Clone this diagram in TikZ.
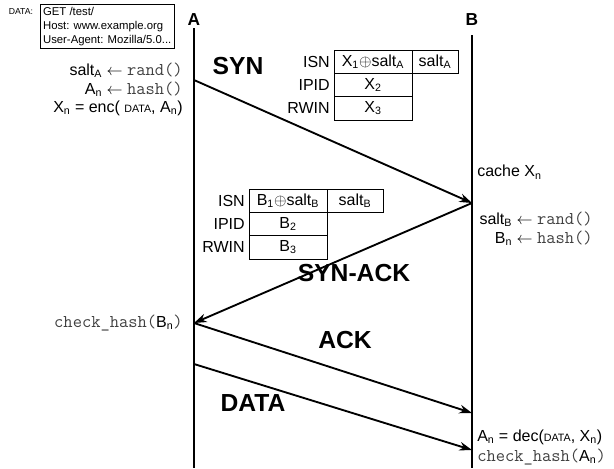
\documentclass[tikz,border=0pt]{standalone}
\usepackage{fontspec}
\setmainfont{Liberation Sans}
\usetikzlibrary{arrows.meta,positioning}

\newcommand{\idx}[1]{\textsubscript{#1}}
\newcommand{\fn}[1]{{\color{black!75}\fontsize{13.5}{14}\selectfont\texttt{#1}}}
\newcommand{\sdata}{{\fontsize{8}{9}\selectfont DATA}}

\tikzset{
	life/.style={line width=2.2pt},
	msg/.style={-{Stealth[length=9.5pt,width=6.5pt]}, line width=1.4pt},
	cell/.style={draw, line width=0.6pt, minimum height=17.5pt, inner sep=0pt, outer sep=0pt},
	note/.style={inner sep=0pt},
	lbl/.style={font=\fontsize{18.5}{20}\selectfont\bfseries},
	host/.style={font=\fontsize{13}{15}\selectfont\bfseries}
}

\begin{document}
\begin{tikzpicture}[x=0.75pt, y=-0.75pt, font=\fontsize{12}{14}\selectfont]
	\useasboundingbox (0,0) rectangle (614,468);
	% ================= 两端 =================
	\node[host] (A) at (194,20) {A};
	\node[host] (B) at (472,20) {B};
	\coordinate (Atop) at (194,28);
	\coordinate (Abot) at (194,468);
	\coordinate (Btop) at (472,35);
	\coordinate (Bbot) at (472,468);
	\draw[life] (Atop) -- (Abot);
	\draw[life] (Btop) -- (Bbot);
	
	% ================= 请求数据 =================
	\node[draw, line width=0.6pt, align=left, anchor=north west, inner sep=2pt,
	font=\fontsize{8.5}{10.5}\selectfont] (req) at (40,4)
	{GET /test/\\Host: www.example.org\\User-Agent: Mozilla/5.0...};
	\node[anchor=north east, inner sep=0pt, font=\fontsize{6.5}{7}\selectfont] (reqlbl)
	at ([xshift=-5pt,yshift=-3pt]req.north west) {DATA:};
	
	% A 端准备
	\node[note, anchor=east] (saltA) at (183,70) {salt\idx{A} $\leftarrow$ \fn{rand()}};
	\node[note, anchor=east] (hashA) at (183,89) {A\idx{n} $\leftarrow$ \fn{hash()}};
	\node[note, anchor=east] (encA) at (183,108) {X\idx{n} = enc( \sdata, A\idx{n})};
	
	% ================= SYN =================
	\coordinate (synA) at (194,80);
	\coordinate (synB) at (472,203);
	\draw[msg] (synA) -- (synB);
	\node[lbl] (synlbl) at (238,66) {SYN};
	
	\node[cell, minimum width=58.5pt, anchor=north west] (synisn) at (334,50) {X\idx{1}$\oplus$salt\idx{A}};
	\node[cell, minimum width=34.5pt, right=0pt of synisn] (synsalt) {salt\idx{A}};
	\node[cell, minimum width=58.5pt, below=0pt of synisn] (synipid) {X\idx{2}};
	\node[cell, minimum width=58.5pt, below=0pt of synipid] (synrwin) {X\idx{3}};
	\node[note, left=3pt of synisn] (synisnl) {ISN};
	\node[note, left=3pt of synipid] (synipidl) {IPID};
	\node[note, left=3pt of synrwin] (synrwinl) {RWIN};
	
	% B 端
	\node[note, anchor=west] (cache) at (477,172) {cache X\idx{n}};
	\node[note, anchor=east] (saltB) at (593,219) {salt\idx{B} $\leftarrow$ \fn{rand()}};
	\node[note, anchor=east] (hashB) at (593,238) {B\idx{n} $\leftarrow$ \fn{hash()}};
	
	% ================= SYN-ACK =================
	\coordinate (sackB) at (472,203);
	\coordinate (sackA) at (194,323);
	\draw[msg] (sackB) -- (sackA);
	\node[lbl] (sacklbl) at (354,273) {SYN-ACK};
	
	\node[cell, minimum width=58.5pt, anchor=north west] (sackisn) at (249,189) {B\idx{1}$\oplus$salt\idx{B}};
	\node[cell, minimum width=42pt, right=0pt of sackisn] (sacksalt) {salt\idx{B}};
	\node[cell, minimum width=58.5pt, below=0pt of sackisn] (sackipid) {B\idx{2}};
	\node[cell, minimum width=58.5pt, below=0pt of sackipid] (sackrwin) {B\idx{3}};
	\node[note, left=3pt of sackisn] (sackisnl) {ISN};
	\node[note, left=3pt of sackipid] (sackipidl) {IPID};
	\node[note, left=3pt of sackrwin] (sackrwinl) {RWIN};
	
	\node[note, anchor=east] (chkB) at (183,323) {\fn{check\_hash(}B\idx{n}\fn{)}};
	
	% ================= ACK / DATA =================
	\coordinate (ackA) at (194,323);
	\coordinate (ackB) at (472,413);
	\draw[msg] (ackA) -- (ackB);
	\node[lbl] (acklbl) at (345,340) {ACK};
	
	\coordinate (dataA) at (194,364);
	\coordinate (dataB) at (472,450);
	\draw[msg] (dataA) -- (dataB);
	\node[lbl] (datalbl) at (253,403) {DATA};
	
	\node[note, anchor=west] (dec) at (477,437) {A\idx{n} = dec(\sdata, X\idx{n})};
	\node[note, anchor=west] (chkA) at (477,457) {\fn{check\_hash(}A\idx{n}\fn{)}};
\end{tikzpicture}
\end{document}
